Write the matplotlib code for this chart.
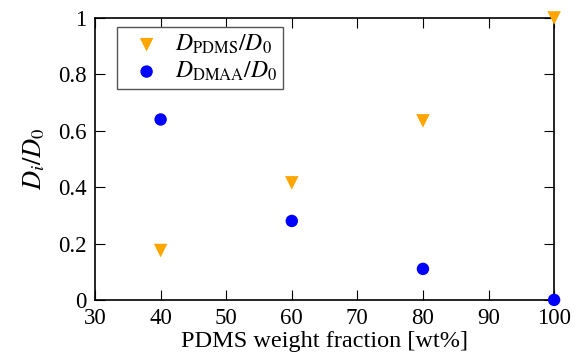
import matplotlib
matplotlib.use("Agg")
import matplotlib.pyplot as plt

plt.rcParams['font.family'] = ['Liberation Serif', 'DejaVu Serif']
plt.rcParams['mathtext.fontset'] = 'stix'

x_pdms = [40, 60, 80, 100]
d_pdms = [0.175, 0.415, 0.635, 1.0]
x_dmaa = [40, 60, 80, 100]
d_dmaa = [0.64, 0.28, 0.11, 0.0]
xticks = [30, 40, 50, 60, 70, 80, 90, 100]
yticks = [0, 0.2, 0.4, 0.6, 0.8, 1.0]
yticklabels = ['0', '0.2', '0.4', '0.6', '0.8', '1']

fig = plt.figure(figsize=(5.76, 3.6), dpi=100)
ax = fig.add_axes([0.165, 0.167, 0.797, 0.783])
ax.scatter(x_pdms, d_pdms, marker='v', s=95, color='#ffa500', clip_on=False, zorder=3,
           label=r'$D_{\mathrm{PDMS}}/D_0$', edgecolors='none')
ax.scatter(x_dmaa, d_dmaa, marker='o', s=80, color='#0000ff', clip_on=False, zorder=3,
           label=r'$D_{\mathrm{DMAA}}/D_0$', edgecolors='none')
ax.set_xlim(30, 100)
ax.set_ylim(0, 1)
ax.set_xticks(xticks)
ax.set_yticks(yticks)
ax.set_yticklabels(yticklabels)
ax.tick_params(direction='in', top=True, right=True, labelsize=16.5, length=7, pad=6)
for s in ax.spines.values():
    s.set_linewidth(1.2)
ax.set_xlabel('PDMS weight fraction [wt%]', fontsize=17.5, labelpad=1)
ax.set_ylabel(r'$D_i/D_0$', fontsize=19, labelpad=8)
leg = ax.legend(loc='upper left', bbox_to_anchor=(0.048, 0.968), borderaxespad=0,
                fontsize=17, fancybox=False,
                edgecolor='#555555', framealpha=1, handletextpad=0.2, borderpad=0.25,
                labelspacing=0.15, handlelength=2.0)
leg.get_frame().set_linewidth(1.0)
fig.savefig('out.png', dpi=100)
